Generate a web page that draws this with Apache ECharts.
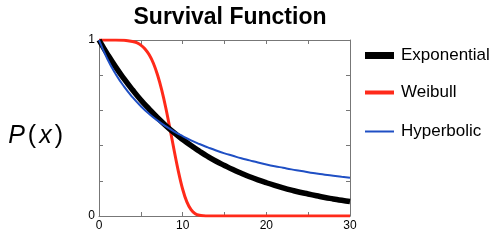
<!DOCTYPE html>
<html>
<head>
<meta charset="utf-8">
<script src="https://cdn.jsdelivr.net/npm/echarts@6/dist/echarts.min.js"></script>
<style>
  html, body { margin: 0; padding: 0; background: #fff; }
  #main { width: 500px; height: 240px; }
</style>
</head>
<body>
<div id="main"></div>
<script>
// x positions for exponential / hyperbolic curves
const xs = [0, 1, 2, 3, 4, 5, 6, 7, 8, 9, 10, 11, 12, 13, 14, 15, 16, 17, 18, 19, 20,
  21, 22, 23, 24, 25, 26, 27, 28, 29, 30];
const exponential = [1.000, 0.920, 0.846, 0.779, 0.717, 0.659, 0.607, 0.558, 0.513, 0.472, 0.435,
  0.400, 0.368, 0.338, 0.311, 0.287, 0.264, 0.243, 0.223, 0.205, 0.189,
  0.174, 0.160, 0.147, 0.135, 0.125, 0.115, 0.105, 0.097, 0.089, 0.082];
const hyperbolic = [1.000, 0.892, 0.806, 0.735, 0.675, 0.624, 0.580, 0.542, 0.509, 0.480, 0.454,
  0.430, 0.409, 0.390, 0.372, 0.356, 0.342, 0.328, 0.316, 0.304, 0.293,
  0.283, 0.274, 0.265, 0.257, 0.249, 0.242, 0.235, 0.229, 0.223, 0.217];
// weibull needs more points around the drop
const weibullX = [0, 1, 2, 3, 4, 4.5, 5, 5.5, 6, 6.5, 7, 7.5, 8, 8.5, 9, 9.5, 10, 10.5, 11,
  11.5, 12, 12.5, 13, 14, 16, 20, 25, 30];
const weibull = [1.000, 1.000, 1.000, 0.999, 0.992, 0.985, 0.971, 0.949, 0.916, 0.868, 0.801,
  0.715, 0.611, 0.492, 0.368, 0.251, 0.152, 0.080, 0.036, 0.013, 0.004, 0.001, 0, 0, 0, 0, 0, 0];
const xTicks = [0, 10, 20, 30];
const yTicks = [0, 1];

const pairs = (a, b) => a.map((x, i) => [x, b[i]]);

const axisGray = "#777";
const baseX = {
  type: "value", min: 0, max: 30, interval: 5,
  axisLine: { onZero: false, lineStyle: { color: axisGray, width: 1 } },
  axisTick: { inside: true, length: 4, lineStyle: { color: axisGray } },
  splitLine: { show: false },
};
const baseY = {
  type: "value", min: 0, max: 1, interval: 0.2,
  axisLine: { show: true, onZero: false, lineStyle: { color: axisGray, width: 1 } },
  axisTick: { show: true, inside: true, length: 4, lineStyle: { color: axisGray } },
  splitLine: { show: false },
};

const legendBase = {
  orient: "vertical", left: 360, icon: "rect", itemWidth: 29, itemGap: 10,
  textStyle: { fontSize: 17, color: "#000", fontFamily: "Liberation Sans", padding: [0, 0, 0, 2] },
  selectedMode: false,
};

const option = {
  backgroundColor: "#fff",
  animation: false,
  title: {
    text: "Survival Function", left: 225, textAlign: "center", top: 1,
    textStyle: { fontSize: 23, fontWeight: "bold", color: "#000", fontFamily: "Liberation Sans" },
  },
  legend: [
    Object.assign({}, legendBase, { top: 42, itemHeight: 7, data: ["Exponential"] }),
    Object.assign({}, legendBase, { top: 79, itemHeight: 4, data: ["Weibull"] }),
    Object.assign({}, legendBase, { top: 118, itemHeight: 2, data: ["Hyperbolic"] }),
  ],
  grid: { left: 99, right: 150, top: 40, bottom: 24, outerBoundsMode: "none" },
  xAxis: [
    Object.assign({}, baseX, {
      position: "bottom",
      axisLabel: {
        margin: 4, fontSize: 12, color: "#000", fontFamily: "Liberation Sans",
        formatter: (v) => (xTicks.includes(v) ? String(v) : ""),
      },
    }),
    Object.assign({}, baseX, { position: "top", axisLabel: { show: false } }),
  ],
  yAxis: [
    Object.assign({}, baseY, {
      position: "left",
      name: "{i|P}{n|(}{i|x}{n|)}", nameLocation: "middle", nameRotate: 0, nameGap: 36,
      nameTextStyle: {
        fontSize: 25, color: "#000", fontFamily: "Liberation Sans", padding: [16, 0, 0, 0],
        rich: {
          i: { fontSize: 25, fontStyle: "italic", color: "#000", fontFamily: "Liberation Sans", padding: [0, 3, 0, 3] },
          n: { fontSize: 25, color: "#000", fontFamily: "Liberation Sans" },
        },
      },
      axisLabel: {
        margin: 4, fontSize: 12, color: "#000", fontFamily: "Liberation Sans",
        formatter: (v) => (yTicks.includes(v) ? String(v) : ""),
      },
    }),
    Object.assign({}, baseY, { position: "right", axisLabel: { show: false } }),
  ],
  series: [
    {
      name: "Exponential", type: "line", showSymbol: false, smooth: true,
      data: pairs(xs, exponential),
      lineStyle: { color: "#000", width: 5.5 }, itemStyle: { color: "#000" }, z: 3,
    },
    {
      name: "Weibull", type: "line", showSymbol: false, smooth: 0.3,
      data: pairs(weibullX, weibull),
      lineStyle: { color: "#ff2a1a", width: 3 }, itemStyle: { color: "#ff2a1a" }, z: 2,
    },
    {
      name: "Hyperbolic", type: "line", showSymbol: false, smooth: true,
      data: pairs(xs, hyperbolic),
      lineStyle: { color: "#1f4fc4", width: 2 }, itemStyle: { color: "#1f4fc4" }, z: 4,
    },
  ],
};

const myChart = echarts.init(document.getElementById("main"));
myChart.setOption(option);
</script>
</body>
</html>
